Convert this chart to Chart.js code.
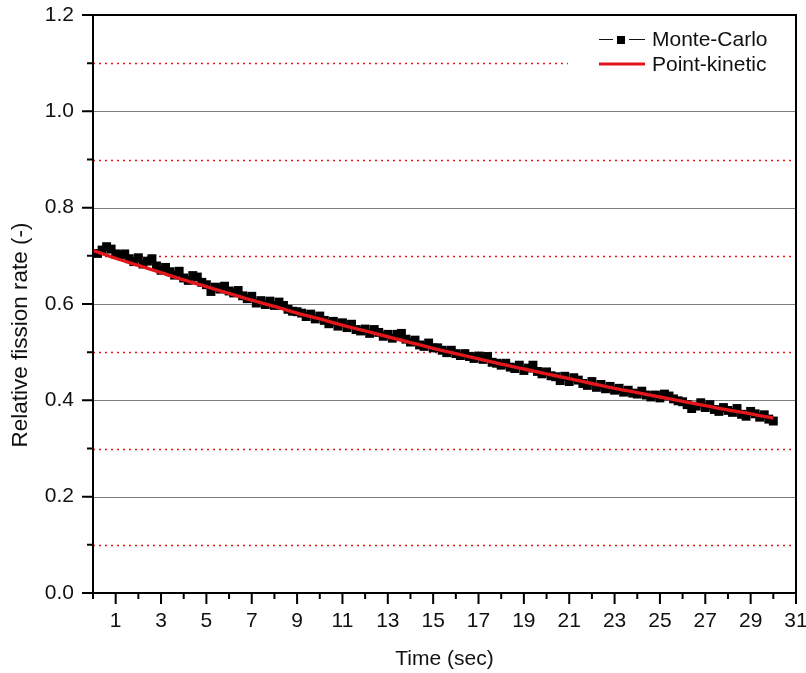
<!DOCTYPE html>
<html><head><meta charset="utf-8">
<script src="https://cdn.jsdelivr.net/npm/chart.js@4.4.1/dist/chart.umd.min.js"></script>
<style>html,body{margin:0;padding:0;background:#fff;}#wrap{width:806px;height:673px;}</style>
</head><body><div id="wrap"><canvas id="c" width="806" height="673"></canvas></div>
<script>
const mcTime = [0.2,0.4,0.6,0.8,1,1.2,1.4,1.6,1.8,2,2.2,2.4,2.6,2.8,3,3.2,3.4,3.6,3.8,4,4.2,4.4,4.6,4.8,5,5.2,5.4,5.6,5.8,6,6.2,6.4,6.6,6.8,7,7.2,7.4,7.6,7.8,8,8.2,8.4,8.6,8.8,9,9.2,9.4,9.6,9.8,10,10.2,10.4,10.6,10.8,11,11.2,11.4,11.6,11.8,12,12.2,12.4,12.6,12.8,13,13.2,13.4,13.6,13.8,14,14.2,14.4,14.6,14.8,15,15.2,15.4,15.6,15.8,16,16.2,16.4,16.6,16.8,17,17.2,17.4,17.6,17.8,18,18.2,18.4,18.6,18.8,19,19.2,19.4,19.6,19.8,20,20.2,20.4,20.6,20.8,21,21.2,21.4,21.6,21.8,22,22.2,22.4,22.6,22.8,23,23.2,23.4,23.6,23.8,24,24.2,24.4,24.6,24.8,25,25.2,25.4,25.6,25.8,26,26.2,26.4,26.6,26.8,27,27.2,27.4,27.6,27.8,28,28.2,28.4,28.6,28.8,29,29.2,29.4,29.6,29.8,30];
const mcRate = [
0.705,0.712,0.719,0.714,0.704,
0.702,0.704,0.694,0.688,0.696,
0.683,0.689,0.694,0.679,0.670,
0.676,0.667,0.660,0.668,0.654,
0.649,0.659,0.656,0.645,0.640,
0.626,0.635,0.631,0.637,0.627,
0.623,0.628,0.617,0.611,0.616,
0.602,0.607,0.599,0.606,0.597,
0.604,0.597,0.589,0.585,0.584,
0.581,0.574,0.579,0.569,0.575,
0.566,0.559,0.564,0.554,0.561,
0.551,0.558,0.547,0.544,0.548,
0.539,0.547,0.541,0.533,0.537,
0.529,0.537,0.539,0.527,0.521,
0.525,0.515,0.512,0.519,0.509,
0.509,0.504,0.499,0.504,0.497,
0.493,0.497,0.491,0.487,0.492,
0.485,0.491,0.479,0.477,0.473,
0.477,0.469,0.466,0.473,0.462,
0.467,0.473,0.460,0.455,0.459,
0.451,0.449,0.441,0.450,0.439,
0.447,0.442,0.435,0.431,0.439,
0.427,0.433,0.424,0.429,0.421,
0.425,0.417,0.421,0.415,0.413,
0.419,0.411,0.407,0.411,0.405,
0.413,0.409,0.403,0.399,0.397,
0.391,0.383,0.388,0.395,0.385,
0.391,0.381,0.377,0.385,0.379,
0.375,0.383,0.371,0.367,0.377,
0.372,0.365,0.370,0.361,0.357];
const pkTime = [0,1,2,3,4,5,6,7,8,9,10,11,12,13,14,15,16,17,18,19,20,21,22,23,24,25,26,27,28,29,30];
const pkRate = [0.711,0.695,0.680,0.665,0.650,0.636,0.622,0.608,0.595,0.581,0.569,0.556,0.544,0.532,0.520,0.508,0.497,0.486,0.475,0.465,0.455,0.445,0.435,0.425,0.416,0.407,0.398,0.389,0.380,0.372,0.363];
const xTickLabels = ['1','3','5','7','9','11','13','15','17','19','21','23','25','27','29','31'];
const yTickLabels = ['0.0','0.2','0.4','0.6','0.8','1.0','1.2'];
const seriesNames = ['Monte-Carlo','Point-kinetic'];
const xTitle = 'Time (sec)';
const yTitle = 'Relative fission rate (-)';

const FONT = '"Liberation Sans", Arial, sans-serif';
const RED = '#e3161c';

const deco = {
  id: 'deco',
  beforeDatasetsDraw(chart) {
    const ctx = chart.ctx, a = chart.chartArea, ys = chart.scales.y;
    ctx.save();
    ys.ticks.forEach(t => {
      const s = t.value.toFixed(1);
      if (s === '0.0' || s === '1.2') return;
      const py = Math.round(ys.getPixelForValue(t.value)) + 0.5;
      ctx.beginPath();
      if (yTickLabels.includes(s)) {
        ctx.strokeStyle = '#7d7d7d'; ctx.lineWidth = 1.2; ctx.setLineDash([]);
      } else {
        ctx.strokeStyle = RED; ctx.lineWidth = 1.4; ctx.setLineDash([2, 4]);
      }
      ctx.moveTo(a.left, py); ctx.lineTo(a.right, py); ctx.stroke();
    });
    ctx.restore();
  },
  afterDraw(chart) {
    const ctx = chart.ctx, a = chart.chartArea, xs = chart.scales.x, ys = chart.scales.y;
    ctx.save();
    // legend box
    ctx.fillStyle = '#fff';
    ctx.fillRect(568, 22, a.right - 570, 56);
    ctx.setLineDash([]);
    ctx.strokeStyle = '#111'; ctx.lineWidth = 1;
    ctx.beginPath(); ctx.moveTo(599, 39.5); ctx.lineTo(613, 39.5); ctx.moveTo(629, 39.5); ctx.lineTo(645, 39.5); ctx.stroke();
    ctx.fillStyle = '#000'; ctx.fillRect(617, 36, 8, 8);
    ctx.strokeStyle = RED; ctx.lineWidth = 3;
    ctx.beginPath(); ctx.moveTo(599, 64); ctx.lineTo(645, 64); ctx.stroke();
    ctx.fillStyle = '#111'; ctx.font = '21px ' + FONT; ctx.textBaseline = 'middle'; ctx.textAlign = 'left';
    ctx.fillText(seriesNames[0], 652, 40);
    ctx.fillText(seriesNames[1], 652, 65);
    // frame
    ctx.strokeStyle = '#000'; ctx.lineWidth = 2;
    ctx.strokeRect(a.left, a.top, a.right - a.left, a.bottom - a.top);
    // ticks
    ctx.lineWidth = 2;
    ctx.beginPath();
    xs.ticks.forEach(t => {
      const px = xs.getPixelForValue(t.value);
      const len = xTickLabels.includes(String(t.value)) ? 11 : 6;
      ctx.moveTo(px, a.bottom); ctx.lineTo(px, a.bottom + len);
    });
    ys.ticks.forEach(t => {
      const py = ys.getPixelForValue(t.value);
      const len = yTickLabels.includes(t.value.toFixed(1)) ? 11 : 6;
      ctx.moveTo(a.left, py); ctx.lineTo(a.left - len, py);
    });
    ctx.stroke();
    // y title
    ctx.fillStyle = '#111';
    ctx.font = '22.5px ' + FONT;
    ctx.translate(21, 335); ctx.rotate(-Math.PI / 2);
    ctx.textAlign = 'center';
    ctx.fillText(yTitle, 0, 0);
    ctx.restore();
  }
};

new Chart(document.getElementById('c'), {
  type: 'line',
  data: {
    datasets: [
      {
        label: seriesNames[0],
        data: mcTime.map((t, i) => ({x: t, y: mcRate[i]})),
        borderColor: '#000', borderWidth: 1,
        pointStyle: 'rect', pointRadius: 6.3, pointBackgroundColor: '#000', pointBorderColor: '#000', pointBorderWidth: 0,
        tension: 0, order: 1
      },
      {
        label: seriesNames[1],
        data: pkTime.map((t, i) => ({x: t, y: pkRate[i]})),
        borderColor: RED, borderWidth: 3.4, pointRadius: 0, cubicInterpolationMode: 'monotone', order: 0
      }
    ]
  },
  options: {
    responsive: false, animation: false, devicePixelRatio: 1,
    layout: {padding: {left: 0, right: 10, top: 15, bottom: 0}},
    plugins: {legend: {display: false}, tooltip: {enabled: false}},
    scales: {
      x: {
        type: 'linear', min: 0, max: 31,
        grid: {display: false}, border: {display: false},
        ticks: {stepSize: 1, autoSkip: false, maxRotation: 0, padding: 8, color: '#111', font: {size: 21, family: FONT},
          callback: v => xTickLabels.includes(String(v)) ? String(v) : ''},
        title: {display: true, text: xTitle, color: '#111', font: {size: 21, family: FONT}, padding: {top: 0, bottom: 1}},
        afterFit(s) { s.height = 80; s.paddingLeft = 0; s.paddingRight = 0; }
      },
      y: {
        type: 'linear', min: 0, max: 1.2,
        grid: {display: false}, border: {display: false},
        ticks: {stepSize: 0.1, autoSkip: false, padding: 11, color: '#111', font: {size: 21, family: FONT},
          callback: v => { const s = v.toFixed(1); return yTickLabels.includes(s) ? s : ''; }},
        afterFit(s) { s.width = 93; s.paddingTop = 0; s.paddingBottom = 0; }
      }
    }
  },
  plugins: [deco]
});
</script></body></html>
